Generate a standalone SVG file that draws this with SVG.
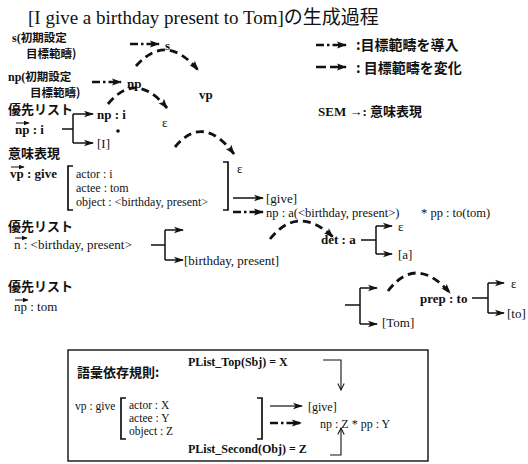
<svg xmlns="http://www.w3.org/2000/svg" width="528" height="464" viewBox="0 0 528 464">
<defs>
<style>
text{font-family:"Liberation Serif","Noto Sans CJK JP",serif;font-size:13px;fill:#111}
.j{font-family:"Noto Sans CJK JP",sans-serif;font-weight:bold;font-size:13px}
.k{font-family:"Noto Sans CJK JP",sans-serif;font-weight:bold;font-size:11.5px}
.lg{font-family:"Noto Sans CJK JP",sans-serif;font-weight:bold;font-size:14px}
.b{font-weight:bold}
.s11{font-size:11.5px}
.s12{font-size:12px}
.s125{font-size:12.5px}
.t{font-family:"Liberation Serif",serif;font-size:19px}
.tj{font-family:"Noto Sans CJK JP",sans-serif;font-size:19px}
.ln{fill:none;stroke:#111;stroke-width:1.5}
.arc{fill:none;stroke:#111;stroke-width:2.8;stroke-dasharray:8 5}
.dd{fill:none;stroke:#111;stroke-width:2.6;stroke-dasharray:8 3 2.5 3}
.ds{fill:none;stroke:#111;stroke-width:2.4;stroke-dasharray:10 4}
.br{fill:none;stroke:#111;stroke-width:1.7}
</style>
<marker id="fa" viewBox="0 0 10 8" refX="9" refY="4" markerWidth="11" markerHeight="8" markerUnits="userSpaceOnUse" orient="auto"><path d="M0,0.5 L10,4 L0,7.5 L2,4 z" fill="#111"/></marker>
<marker id="sa" viewBox="0 0 10 8" refX="9" refY="4" markerWidth="12" markerHeight="8" markerUnits="userSpaceOnUse" orient="auto"><path d="M0,0.8 L10,4 L0,7.2 L2.5,4 z" fill="#111"/></marker>
<marker id="va" viewBox="0 0 10 10" refX="9" refY="5" markerWidth="8" markerHeight="8" markerUnits="userSpaceOnUse" orient="auto"><path d="M1,1 L9,5 L1,9" fill="none" stroke="#111" stroke-width="1.3"/></marker>
<marker id="ta" viewBox="0 0 10 8" refX="9" refY="4" markerWidth="6" markerHeight="5" markerUnits="userSpaceOnUse" orient="auto"><path d="M0,0 L10,4 L0,8 z" fill="#111"/></marker>
</defs>
<rect width="528" height="464" fill="#fff"/>

<text x="28" y="24" class="t">[I give a birthday present to Tom]<tspan class="tj">の生成過程</tspan></text>

<g id="legend">
<line x1="316" y1="45" x2="346" y2="45" class="dd" marker-end="url(#fa)"/>
<text x="356" y="50" class="lg">:目標範疇を導入</text>
<line x1="316" y1="67" x2="346" y2="67" class="ds" marker-end="url(#fa)"/>
<text x="356" y="73" class="lg">: 目標範疇を変化</text>
<text x="318" y="116" class="b">SEM →: <tspan class="j">意味表現</tspan></text>
</g>

<g id="s-init">
<text x="12" y="42" class="b s12">s(<tspan class="k">初期設定</tspan></text>
<text x="26" y="58" class="k">目標範疇)</text>
</g>
<g id="np-init">
<text x="8" y="81" class="b s12">np(<tspan class="k">初期設定</tspan></text>
<text x="30" y="97" class="k">目標範疇)</text>
</g>
<g id="s"><text x="165" y="50" class="b">s</text></g>
<g id="np"><text x="127" y="88" class="b">np</text></g>
<g id="vp"><text x="199" y="99" class="b">vp</text></g>

<g id="plist1">
<text x="8" y="114" class="j">優先リスト</text>
<text x="15" y="134" class="b">np : i</text>
</g>
<g id="np-i"><text x="97" y="119" class="b">np : i</text></g>
<g id="I"><text x="97" y="148">[I]</text></g>
<g id="dot"><circle cx="118" cy="131" r="1.8" fill="#111"/></g>
<g id="eps1"><text x="162" y="127">ε</text></g>

<g id="sem">
<text x="8" y="158" class="j">意味表現</text>
<text x="10" y="178" class="b">vp : give</text>
<text x="76" y="178" class="s12">actor : i</text>
<text x="76" y="192" class="s12">actee : tom</text>
<text x="76" y="206" class="s12">object : &lt;birthday, present&gt;</text>
<path d="M73,166 H68 V210 H73" class="br"/>
<path d="M223,162 H228 V210 H223" class="br"/>
</g>
<g id="eps2"><text x="237" y="173">ε</text></g>
<g id="give"><text x="266" y="203">[give]</text></g>
<g id="npa"><text x="266" y="217" class="s125">np : a(&lt;birthday, present&gt;)</text></g>
<g id="pp"><text x="421" y="217" class="s125">* pp : to(tom)</text></g>

<g id="plist2">
<text x="8" y="231" class="j">優先リスト</text>
<text x="14" y="249">n : &lt;birthday, present&gt;</text>
</g>
<g id="bp"><text x="184" y="265">[birthday, present]</text></g>
<g id="det"><text x="321" y="244" class="b">det : a</text></g>
<g id="eps3"><text x="398" y="231">ε</text></g>
<g id="a"><text x="398" y="259">[a]</text></g>

<g id="plist3">
<text x="8" y="291" class="j">優先リスト</text>
<text x="14" y="311">np : tom</text>
</g>
<g id="tom"><text x="382" y="327">[Tom]</text></g>
<g id="prep"><text x="420" y="303" class="b">prep : to</text></g>
<g id="eps4"><text x="511" y="288">ε</text></g>
<g id="to"><text x="507" y="318">[to]</text></g>

<g id="rule">
<rect x="68" y="350" width="360" height="111" fill="none" stroke="#111" stroke-width="1.4"/>
<text x="77" y="377" class="j">語彙依存規則:</text>
<text x="188" y="366" class="b s12">PList_Top(Sbj) = X</text>
<text x="75" y="410" class="s11">vp : give</text>
<text x="129" y="409" class="s11">actor : X</text>
<text x="129" y="422" class="s11">actee : Y</text>
<text x="129" y="435" class="s11">object : Z</text>
<path d="M126,398 H121 V439 H126" class="br"/>
<path d="M257,398 H262 V439 H257" class="br"/>
<text x="308" y="411" class="s12">[give]</text>
<text x="320" y="428" class="s12">np : Z * pp : Y</text>
<text x="188" y="453" class="b s12">PList_Second(Obj) = Z</text>
</g>

<g id="connectors">
<line x1="130" y1="44" x2="159" y2="44" class="dd" marker-end="url(#fa)"/>
<line x1="92" y1="82" x2="121" y2="82" class="dd" marker-end="url(#fa)"/>
<path d="M136,66 Q166,32 198,70" class="arc" marker-end="url(#fa)"/>
<path d="M108,104 Q136,70 167,108" class="arc" marker-end="url(#fa)"/>
<path d="M175,147 Q203,113 234,154" class="arc" marker-end="url(#fa)"/>
<path d="M270,239 Q298,204 333,237" class="arc" marker-end="url(#fa)"/>
<path d="M388,291 Q416,254 450,293" class="arc" marker-end="url(#fa)"/>
<line x1="16" y1="123" x2="29" y2="123" stroke="#111" stroke-width="1" marker-end="url(#ta)"/>
<line x1="11" y1="167" x2="24" y2="167" stroke="#111" stroke-width="1" marker-end="url(#ta)"/>
<line x1="15" y1="238" x2="27" y2="238" stroke="#111" stroke-width="1" marker-end="url(#ta)"/>
<line x1="15" y1="300" x2="28" y2="300" stroke="#111" stroke-width="1" marker-end="url(#ta)"/>
<path d="M62,129 H73 M73,114 V143" class="ln"/>
<line x1="73" y1="114" x2="93" y2="114" class="ln" marker-end="url(#sa)"/>
<line x1="73" y1="143" x2="93" y2="143" class="ln" marker-end="url(#sa)"/>
<line x1="233" y1="198" x2="263" y2="198" class="ln" marker-end="url(#sa)"/>
<line x1="233" y1="212" x2="263" y2="212" class="dd" marker-end="url(#fa)"/>
<path d="M151,245 H165 M165,230 V260" class="ln"/>
<line x1="165" y1="230" x2="183" y2="230" class="ln" marker-end="url(#sa)"/>
<line x1="165" y1="260" x2="183" y2="260" class="ln" marker-end="url(#sa)"/>
<path d="M361,240 H376 M376,226 V254" class="ln"/>
<line x1="376" y1="226" x2="392" y2="226" class="ln" marker-end="url(#sa)"/>
<line x1="376" y1="254" x2="392" y2="254" class="ln" marker-end="url(#sa)"/>
<path d="M345,305 H360 M360,288 V324" class="ln"/>
<line x1="360" y1="288" x2="377" y2="288" class="ln" marker-end="url(#sa)"/>
<line x1="360" y1="324" x2="377" y2="324" class="ln" marker-end="url(#sa)"/>
<path d="M472,298 H488 M488,283 V313" class="ln"/>
<line x1="488" y1="283" x2="504" y2="283" class="ln" marker-end="url(#sa)"/>
<line x1="488" y1="313" x2="504" y2="313" class="ln" marker-end="url(#sa)"/>
<line x1="270" y1="406" x2="302" y2="406" stroke="#111" stroke-width="1.2" marker-end="url(#sa)"/>
<line x1="270" y1="423" x2="301" y2="423" class="dd" marker-end="url(#fa)"/>
<path d="M323,360 H341 V390" fill="none" stroke="#111" stroke-width="1.1" marker-end="url(#va)"/>
<path d="M330,455 H341 V428" fill="none" stroke="#111" stroke-width="1.1" marker-end="url(#va)"/>
</g>
</svg>
